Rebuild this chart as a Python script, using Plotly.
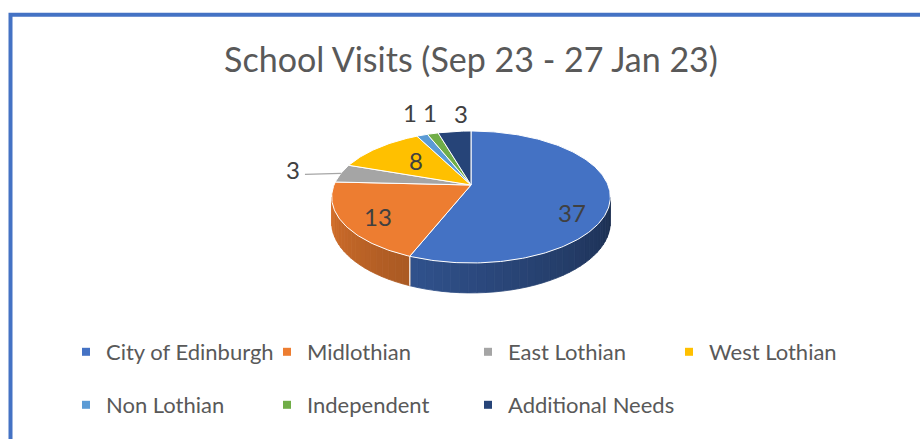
import numpy as np
import plotly.graph_objects as go

# ---------------- data ----------------
categories = ["City of Edinburgh", "Midlothian", "East Lothian", "West Lothian",
              "Non Lothian", "Independent", "Additional Needs"]
visits = [37, 13, 3, 8, 1, 1, 3]
colors = ["#4472C4", "#ED7D31", "#A5A5A5", "#FFC000", "#5B9BD5", "#70AD47", "#264478"]
title_text = "School Visits (Sep 23 - 27 Jan 23)"

# ---------------- geometry / style ----------------
W, H = 920, 439
CX, CY = 471, 185          # pie apex in pixel space
A, B = 137, 63.8           # horizontal / vertical radius
K = 0.1818                 # perspective factor
DEPTH = 24.5               # side wall depth
FONT = "Lato"
TXT = "#404040"

# label placement: (radius fraction, dx, dy)
label_place = [(0.75, -3, 18), (0.7, -6, 6), (1.0, -48, -4), (0.65, 7, 1),
               (1.3, 0, -10), (1.3, 7, -8), (1.3, 11, -5)]
# which legend box each entry lives in (row 1 / row 2 / last cell of row 2)
legend_slot = ["legend", "legend", "legend", "legend", "legend2", "legend2", "legend3"]


def proj(phi_deg, f=1.0, drop=0.0):
    phi = np.radians(phi_deg)
    X = f * np.sin(phi)
    Z = -f * np.cos(phi)
    s = 1.0 / (1.0 - K * Z)
    return CX + A * X * s, CY + B * Z * s + drop * s


def shade(hexc, fac):
    h = hexc.lstrip("#")
    r, g, b = (int(h[i:i + 2], 16) for i in (0, 2, 4))
    return "rgb(%d,%d,%d)" % (r * fac, g * fac, b * fac)


total = float(sum(visits))
bounds = np.concatenate([[0.0], np.cumsum(visits) / total * 360.0])

fig = go.Figure()

# ---- side walls (front visible part), with shading strips ----
VIS0, VIS1 = 100.5, 259.5
for i, c in enumerate(colors):
    a0, a1 = max(bounds[i], VIS0), min(bounds[i + 1], VIS1)
    if a1 <= a0:
        continue
    n = max(1, int(np.ceil((a1 - a0) / 3.0)))
    edges = np.linspace(a0, a1, n + 1)
    for j in range(n):
        s0, s1 = edges[j], edges[j + 1]
        angs = np.linspace(s0, s1, 4)
        tx, ty = proj(angs)
        bx, by = proj(angs[::-1], drop=DEPTH)
        xs = np.concatenate([tx, bx, tx[:1]])
        ys = np.concatenate([ty, by, ty[:1]])
        mid = 0.5 * (s0 + s1)
        fac = 0.4 + 0.5 * (mid - VIS0) / (VIS1 - VIS0)
        col = shade(c, fac)
        fig.add_trace(go.Scatter(x=xs, y=ys, mode="lines", fill="toself",
                                 fillcolor=col, line=dict(color=col, width=0.8),
                                 hoverinfo="skip", showlegend=False))
    for bnd in (bounds[i], bounds[i + 1]):
        if VIS0 < bnd < VIS1:
            x0, y0 = proj(bnd)
            x1, y1 = proj(bnd, drop=DEPTH)
            fig.add_trace(go.Scatter(x=[x0, x1], y=[y0, y1], mode="lines",
                                     line=dict(color="white", width=1),
                                     hoverinfo="skip", showlegend=False))

# ---- top faces ----
for i, c in enumerate(colors):
    angs = np.linspace(bounds[i], bounds[i + 1], max(3, int((bounds[i + 1] - bounds[i]) / 1.0) + 2))
    ax, ay = proj(angs)
    xs = np.concatenate([[CX], ax, [CX]])
    ys = np.concatenate([[CY], ay, [CY]])
    fig.add_trace(go.Scatter(x=xs, y=ys, mode="lines", fill="toself", fillcolor=c,
                             line=dict(color="white", width=1),
                             name=categories[i], text=[f"{categories[i]}: {visits[i]}"] * len(xs),
                             hoverinfo="text", showlegend=False))

# ---- data labels ----
annotations = []
for i, v in enumerate(visits):
    mid = 0.5 * (bounds[i] + bounds[i + 1])
    f, dx, dy = label_place[i]
    bx, by = proj(mid, f=f)
    lx, ly = bx + dx, by + dy
    annotations.append(dict(x=lx, y=ly, xref="x", yref="y", text=str(v), showarrow=False,
                            font=dict(family=FONT, size=24, color=TXT),
                            xanchor="center", yanchor="middle"))
    if f == 1.0:  # leader line for small side label
        fig.add_trace(go.Scatter(x=[lx + 12, bx], y=[ly + 5, by], mode="lines",
                                 line=dict(color="#A6A6A6", width=1.3),
                                 hoverinfo="skip", showlegend=False))

# ---- legend entries ----
for i, (cat, c) in enumerate(zip(categories, colors)):
    fig.add_trace(go.Scatter(x=[None], y=[None], mode="markers",
                             marker=dict(symbol="square", size=8, color=c),
                             name=cat, legend=legend_slot[i]))

leg_base = dict(orientation="h", xanchor="left", yanchor="middle",
                font=dict(family=FONT, size=22, color="#595959"),
                bgcolor="rgba(0,0,0,0)", itemclick=False, itemdoubleclick=False)
leg_grid = dict(entrywidth=156, entrywidthmode="pixels", **leg_base)

fig.update_layout(
    width=W, height=H,
    margin=dict(l=0, r=0, t=0, b=0),
    paper_bgcolor="white", plot_bgcolor="white",
    xaxis=dict(range=[0, W], visible=False, fixedrange=True),
    yaxis=dict(range=[H, 0], visible=False, fixedrange=True),
    title=dict(text=title_text, x=471 / W, xanchor="center", y=1 - 60 / H, yanchor="middle",
               font=dict(family=FONT, size=34, color="#595959")),
    legend=dict(x=66 / W, y=1 - 352 / H, **leg_grid),
    legend2=dict(x=66 / W, y=1 - 405 / H, **leg_grid),
    legend3=dict(x=468 / W, y=1 - 405 / H, **leg_base),
    annotations=annotations,
    shapes=[dict(type="rect", xref="x", yref="y", x0=10.5, y0=14.7, x1=1000, y1=1000,
                 line=dict(color="#4472C4", width=4), layer="above")],
)

fig.write_html("out.html", config={"displayModeBar": False},
               post_script="document.body.style.margin='0';")
